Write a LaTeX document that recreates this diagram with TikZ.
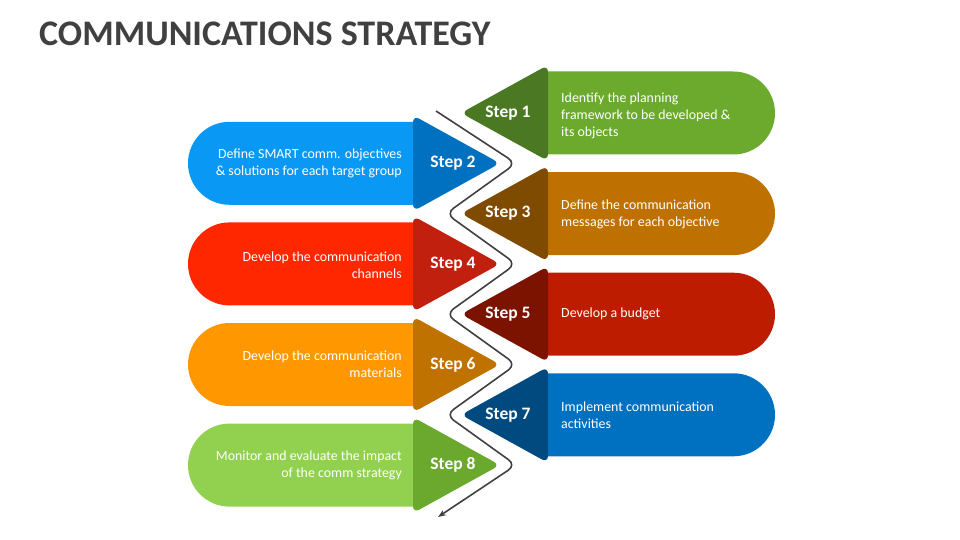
\documentclass[tikz,border=0pt]{standalone}
\usepackage{fontspec}
\setmainfont{Carlito}
\usepackage{tikz}
\usetikzlibrary{shapes.misc, arrows.meta}

\definecolor{ink}{HTML}{404040}
\definecolor{bar1}{HTML}{6CAA2E}\definecolor{tri1}{HTML}{4B7923}
\definecolor{bar2}{HTML}{0A98F5}\definecolor{tri2}{HTML}{0070C0}
\definecolor{bar3}{HTML}{BF7100}\definecolor{tri3}{HTML}{7E4B00}
\definecolor{bar4}{HTML}{FE2700}\definecolor{tri4}{HTML}{C0200D}
\definecolor{bar5}{HTML}{BE1C00}\definecolor{tri5}{HTML}{7B1300}
\definecolor{bar6}{HTML}{FF9800}\definecolor{tri6}{HTML}{C07200}
\definecolor{bar7}{HTML}{0070C0}\definecolor{tri7}{HTML}{004A7F}
\definecolor{bar8}{HTML}{92D050}\definecolor{tri8}{HTML}{6AA92E}

\begin{document}
\begin{tikzpicture}[x=1pt, y=-1pt,
  rbar/.style={rounded rectangle, rounded rectangle west arc=none, minimum width=227pt, minimum height=83pt, inner sep=0pt},
  lbar/.style={rounded rectangle, rounded rectangle east arc=none, minimum width=227pt, minimum height=83pt, inner sep=0pt},
  tri/.style={rounded corners=7pt},
  steplbl/.style={text=white, inner sep=0pt, font=\bfseries\fontsize{17.5}{20}\selectfont},
  rtxt/.style={text=white, anchor=west, align=left, inner sep=0pt, font=\fontsize{13.9}{17}\selectfont},
  ltxt/.style={text=white, anchor=east, align=right, inner sep=0pt, font=\fontsize{13.9}{17}\selectfont},
  zig/.style={draw=ink, line width=1.6pt, rounded corners=9pt}]

\useasboundingbox (0,0) rectangle (960,540);

% Title
\node[anchor=base west, text=ink, inner sep=0pt, font=\bfseries\fontsize{36}{40}\selectfont] (title) at (39,46) {COMMUNICATIONS STRATEGY};

% Step 1 (right)
\node[rbar, fill=bar1] (b1) at (661.5,113) {};
\fill[tri, tri1] (548,65) -- (461,113) -- (548,161) -- cycle;
\node[steplbl] (s1) at (508,113) {Step 1};
\node[rtxt] (t1) at (561,115.5) {Identify the planning\\framework to be developed \&\\its objects};

% Step 2 (left)
\node[lbar, fill=bar2] (b2) at (301.5,163.3) {};
\fill[tri, tri2] (413,115.3) -- (500,163.3) -- (413,211.3) -- cycle;
\node[steplbl] (s2) at (453,163.3) {Step 2};
\node[ltxt] (t2) at (402,163.3) {Define SMART comm. objectives\\\& solutions for each target group};

% Step 3 (right)
\node[rbar, fill=bar3] (b3) at (661.5,213.6) {};
\fill[tri, tri3] (548,165.6) -- (461,213.6) -- (548,261.6) -- cycle;
\node[steplbl] (s3) at (508,213.6) {Step 3};
\node[rtxt] (t3) at (561,214.6) {Define the communication\\messages for each objective};

% Step 4 (left)
\node[lbar, fill=bar4] (b4) at (301.5,263.9) {};
\fill[tri, tri4] (413,215.9) -- (500,263.9) -- (413,311.9) -- cycle;
\node[steplbl] (s4) at (453,263.9) {Step 4};
\node[ltxt] (t4) at (402,264.9) {Develop the communication\\channels};

% Step 5 (right)
\node[rbar, fill=bar5] (b5) at (661.5,314.2) {};
\fill[tri, tri5] (548,266.2) -- (461,314.2) -- (548,362.2) -- cycle;
\node[steplbl] (s5) at (508,314.2) {Step 5};
\node[rtxt] (t5) at (561,314.2) {Develop a budget};

% Step 6 (left)
\node[lbar, fill=bar6] (b6) at (301.5,364.5) {};
\fill[tri, tri6] (413,316.5) -- (500,364.5) -- (413,412.5) -- cycle;
\node[steplbl] (s6) at (453,364.5) {Step 6};
\node[ltxt] (t6) at (402,364.5) {Develop the communication\\materials};

% Step 7 (right)
\node[rbar, fill=bar7] (b7) at (661.5,414.8) {};
\fill[tri, tri7] (548,366.8) -- (461,414.8) -- (548,462.8) -- cycle;
\node[steplbl] (s7) at (508,414.8) {Step 7};
\node[rtxt] (t7) at (561,414.8) {Implement communication\\activities};

% Step 8 (left)
\node[lbar, fill=bar8] (b8) at (301.5,465.1) {};
\fill[tri, tri8] (413,417.1) -- (500,465.1) -- (413,513.1) -- cycle;
\node[steplbl] (s8) at (453,465.1) {Step 8};
\node[ltxt] (t8) at (402,465.1) {Monitor and evaluate the impact\\of the comm strategy};

% Zigzag path between the arrows
\coordinate (z0) at (436,111);
\coordinate (z2) at (516,163.3);
\coordinate (z3) at (446,213.6);
\coordinate (z4) at (516,263.9);
\coordinate (z5) at (446,314.2);
\coordinate (z6) at (516,364.5);
\coordinate (z7) at (446,414.8);
\coordinate (z8) at (516,465.1);
\coordinate (zend) at (438,517);
\draw[zig, -{Stealth[length=8pt, width=6pt]}] (z0) -- (z2) -- (z3) -- (z4) -- (z5) -- (z6) -- (z7) -- (z8) -- (zend);
\end{tikzpicture}
\end{document}
